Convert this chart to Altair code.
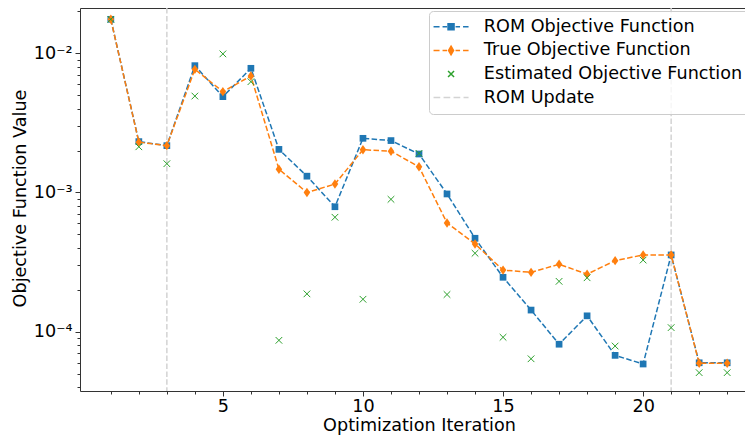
import altair as alt
import pandas as pd

iters = list(range(1, 24))
rom_vals = [0.01754, 0.00232, 0.00217, 0.00815, 0.00488, 0.0078, 0.00204, 0.00131, 0.00079,
            0.00245, 0.00236, 0.00189, 0.000976, 0.000469, 0.000246, 0.000143, 8.13e-5,
            1.30e-4, 6.76e-5, 5.86e-5, 3.56e-4, 5.98e-5, 5.98e-5]
true_vals = [0.01754, 0.00230, 0.00217, 0.00767, 0.0053, 0.00687, 0.00147, 0.00100, 0.00115,
             0.00203, 0.00198, 0.00153, 0.000604, 0.000427, 0.000277, 0.000267, 0.000305,
             0.000259, 0.000324, 0.000356, 0.000356, 5.93e-5, 5.93e-5]
est_vals = [0.01754, 0.00213, 0.00161, 0.00493, 0.0099, 0.00625, 8.67e-5, 1.87e-4, 6.64e-4,
            1.71e-4, 8.93e-4, 0.00191, 1.85e-4, 3.66e-4, 9.12e-5, 6.39e-5, 2.30e-4,
            2.44e-4, 7.89e-5, 3.27e-4, 1.07e-4, 5.08e-5, 5.08e-5]
update_iters = [3, 21]

series_names = ["ROM Objective Function", "True Objective Function",
                "Estimated Objective Function", "ROM Update"]
series_colors = ["#1f77b4", "#ff7f0e", "#2ca02c", "#d3d3d3"]

x_major = [5, 10, 15, 20]
x_minor = [i for i in range(1, 25) if i not in x_major]
y_major = [1e-4, 1e-3, 1e-2]
y_minor = [m * 10.0 ** e for e in (-5, -4, -3, -2) for m in range(2, 10)]
y_minor = [v for v in y_minor if 3.75e-5 <= v <= 0.0211]

rom_df = pd.DataFrame({"iter": iters, "value": rom_vals, "series": series_names[0]})
true_df = pd.DataFrame({"iter": iters, "value": true_vals, "series": series_names[1]})
est_df = pd.DataFrame({"iter": iters, "value": est_vals, "series": series_names[2]})
upd_df = pd.DataFrame({"iter": update_iters, "series": series_names[3]})

xs = alt.Scale(domain=[-0.1, 24.1], nice=False, zero=False)
ys = alt.Scale(type="log", domain=[3.75e-5, 0.02115], nice=False)
cs = alt.Scale(domain=series_names, range=series_colors)

FONT = "DejaVu Sans"
FS = 17.6
AX = "#333333"
DASH = [5.5, 2.4]

rom_path = "M-3.5,0H-2.3M-1.7,0H-0.8M0.9,0H1.8M2.4,0H3.5M-0.6,-0.6H0.6V0.6H-0.6Z"
true_path = "M-3.5,0H-2.3M-1.7,0H-0.8M0.9,0H1.8M2.4,0H3.5M0,-0.85L0.5,0L0,0.85L-0.5,0Z"
est_path = "M-0.6,-0.6L0.6,0.6M-0.6,0.6L0.6,-0.6"
upd_path = "M-3.5,0H-2.16M-1.5,0H-0.16M0.5,0H1.84M2.5,0H3.5"
sym_expr = ("datum.value === '%s' ? '%s' : datum.value === '%s' ? '%s' : "
            "datum.value === '%s' ? '%s' : '%s'") % (
    series_names[0], rom_path, series_names[1], true_path,
    series_names[2], est_path, upd_path)

legend = alt.Legend(
    title=None, orient="none", legendX=349, legendY=3,
    padding=7, fillColor="rgba(255,255,255,0.8)", strokeColor="#cccccc",
    cornerRadius=4, labelFont=FONT, labelFontSize=FS, labelColor="#000000",
    labelLimit=400, symbolSize=100, symbolOffset=6.25, labelOffset=24,
    rowPadding=4.6, symbolStrokeWidth=1.5,
    symbolType=alt.ExprRef(expr=sym_expr),
    symbolStrokeColor=alt.ExprRef(expr="scale('color', datum.value)"),
    symbolFillColor=alt.ExprRef(expr="scale('color', datum.value)"),
)

color = alt.Color("series:N", scale=cs, legend=legend)

rules = alt.Chart(upd_df).mark_rule(strokeDash=DASH, strokeWidth=1.5).encode(
    x=alt.X("iter:Q", scale=xs, axis=None),
    color=color,
)

rom_line = alt.Chart(rom_df).mark_line(strokeDash=DASH, strokeWidth=1.5).encode(
    x=alt.X("iter:Q", scale=xs, axis=alt.Axis(
        orient="bottom", values=x_major, title="Optimization Iteration",
        grid=False, tickSize=5, tickColor=AX, domainColor=AX, labelPadding=1,
        labelFont=FONT, labelFontSize=FS, labelColor="#000000", titleFont=FONT,
        titleFontSize=FS, titleFontWeight="normal", titleColor="#000000",
        titleX=339, titleY=39, titleBaseline="alphabetic", labelFlush=False)),
    y=alt.Y("value:Q", scale=ys, axis=alt.Axis(
        orient="left", values=y_major, title="Objective Function Value",
        labelExpr="'10' + (datum.value < 0.0005 ? '⁻⁴' : datum.value < 0.005 ? '⁻³' : '⁻²')",
        grid=False, tickSize=5, tickColor=AX, domainColor=AX, labelPadding=3,
        labelFont=FONT, labelFontSize=FS, labelColor="#000000", titleFont=FONT,
        titleFontSize=FS, titleFontWeight="normal", titleColor="#000000",
        titleX=-55, titleY=190, titleBaseline="alphabetic", labelFlush=False)),
    color=color,
)

rom_pts = alt.Chart(rom_df).mark_point(shape="square", filled=True, size=45, opacity=1).encode(
    x=alt.X("iter:Q", scale=xs, axis=None),
    y=alt.Y("value:Q", scale=ys, axis=None),
    color=color,
)

true_line = alt.Chart(true_df).mark_line(strokeDash=DASH, strokeWidth=1.5).encode(
    x=alt.X("iter:Q", scale=xs, axis=alt.Axis(
        orient="bottom", values=x_minor, labels=False, title=None, grid=False,
        domain=False, tickSize=3, tickColor=AX)),
    y=alt.Y("value:Q", scale=ys, axis=alt.Axis(
        orient="left", values=y_minor, labels=False, title=None, grid=False,
        domain=False, tickSize=3, tickColor=AX)),
    color=color,
)

true_pts = alt.Chart(true_df).mark_point(
    shape="M0,-1L0.7,0L0,1L-0.7,0Z", filled=True, size=88, opacity=1).encode(
    x=alt.X("iter:Q", scale=xs, axis=None),
    y=alt.Y("value:Q", scale=ys, axis=None),
    color=color,
)

est_pts = alt.Chart(est_df).mark_point(
    shape="M-1,-1L1,1M-1,1L1,-1", filled=False, size=44, opacity=1, strokeWidth=1).encode(
    x=alt.X("iter:Q", scale=xs, axis=alt.Axis(
        orient="top", labels=False, ticks=False, title=None, grid=False,
        domain=True, domainColor=AX)),
    y=alt.Y("value:Q", scale=ys, axis=None),
    color=color,
)

chart = alt.layer(rules, rom_line, rom_pts, true_line, true_pts, est_pts).resolve_axis(
    x="independent", y="independent"
).properties(
    width=678, height=383,
    autosize=alt.AutoSizeParams(type="none"),
    padding={"left": 72, "top": 0, "right": -13, "bottom": 49},
).configure_view(stroke=None)

chart.save("out.html", embed_options={"renderer": "svg", "actions": False})
